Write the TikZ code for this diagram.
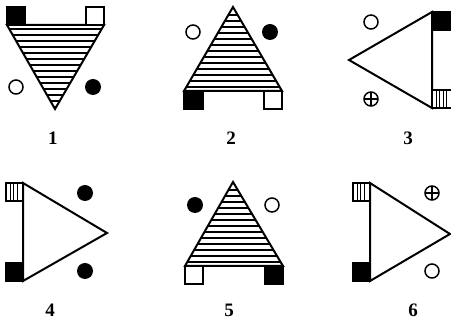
\documentclass[tikz,border=0pt]{standalone}
\usepackage{fontspec}
\setmainfont{Liberation Serif}
\begin{document}
\begin{tikzpicture}[x=1pt,y=-1pt,
  tri/.style={draw=black,line width=2pt,line join=miter},
  stripe/.style={line width=2.2pt},
  sq/.style={draw=black,line width=1.5pt,fill=white},
  blk/.style={draw=black,line width=1.5pt,fill=black},
  vline/.style={line width=1pt},
  ocirc/.style={circle,draw,line width=1.5pt,minimum size=14pt,inner sep=0pt},
  fcirc/.style={circle,fill=black,minimum size=16pt,inner sep=0pt},
  pcirc/.style={ocirc,path picture={\draw[line width=1.2pt]
     (path picture bounding box.north) -- (path picture bounding box.south)
     (path picture bounding box.west) -- (path picture bounding box.east);}},
  lbl/.style={font=\fontsize{19}{19}\selectfont\bfseries,inner sep=1pt}]
\useasboundingbox (0,0) rectangle (451,320);
\fill[white] (0,0) rectangle (451,320);

% ---- panel 1
\begin{scope}
  \clip (7,25) -- (104,25) -- (55,109) -- cycle;
  \foreach \y in {29,35,...,107} \draw[stripe] (0,\y) -- (120,\y);
\end{scope}
\draw[tri] (7,25) -- (104,25) -- (55,109) -- cycle;
\draw[blk] (7,7) rectangle (25,25);
\draw[sq] (86,7) rectangle (104,25);
\node[ocirc] (c1a) at (16,87) {};
\node[fcirc] (c1b) at (93,87) {};
\node[lbl] (n1) at (53,138) {1};

% ---- panel 2
\begin{scope}
  \clip (184,91) -- (282,91) -- (233,7) -- cycle;
  \foreach \y in {15,21,...,89} \draw[stripe] (170,\y) -- (300,\y);
\end{scope}
\draw[tri] (184,91) -- (282,91) -- (233,7) -- cycle;
\draw[blk] (184,91) rectangle (203,109);
\draw[sq] (264,91) rectangle (282,109);
\node[ocirc] (c2a) at (193,32) {};
\node[fcirc] (c2b) at (270,32) {};
\node[lbl] (n2) at (231,138) {2};

% ---- panel 3
\draw[tri] (432,12) -- (432,108) -- (349,60) -- cycle;
\draw[blk] (432,12) rectangle (452,30);
\draw[sq] (432,90) rectangle (452,108);
\foreach \x in {436,439.5,443,446.5} \draw[vline] (\x,90) -- (\x,108);
\node[ocirc] (c3a) at (371,22) {};
\node[pcirc] (c3b) at (371,99) {};
\node[lbl] (n3) at (408,138) {3};

% ---- panel 4
\draw[tri] (23,183) -- (23,281) -- (107,233) -- cycle;
\draw[sq] (6,183) rectangle (23,201);
\foreach \x in {10,13.5,17} \draw[vline] (\x,183) -- (\x,201);
\draw[blk] (6,263) rectangle (23,281);
\node[fcirc] (c4a) at (85,193) {};
\node[fcirc] (c4b) at (85,271) {};
\node[lbl] (n4) at (50,310) {4};

% ---- panel 5
\begin{scope}
  \clip (185,266) -- (283,266) -- (233,182) -- cycle;
  \foreach \y in {190,196,...,264} \draw[stripe] (170,\y) -- (300,\y);
\end{scope}
\draw[tri] (185,266) -- (283,266) -- (233,182) -- cycle;
\draw[sq] (185,266) rectangle (203,284);
\draw[blk] (265,266) rectangle (283,284);
\node[fcirc] (c5a) at (195,205) {};
\node[ocirc] (c5b) at (272,205) {};
\node[lbl] (n5) at (229,310) {5};

% ---- panel 6
\draw[tri] (370,183) -- (370,281) -- (450,234) -- cycle;
\draw[sq] (353,183) rectangle (370,201);
\foreach \x in {357,360.5,364} \draw[vline] (\x,183) -- (\x,201);
\draw[blk] (353,263) rectangle (370,281);
\node[pcirc] (c6a) at (432,193) {};
\node[ocirc] (c6b) at (432,271) {};
\node[lbl] (n6) at (413,310) {6};
\end{tikzpicture}
\end{document}
